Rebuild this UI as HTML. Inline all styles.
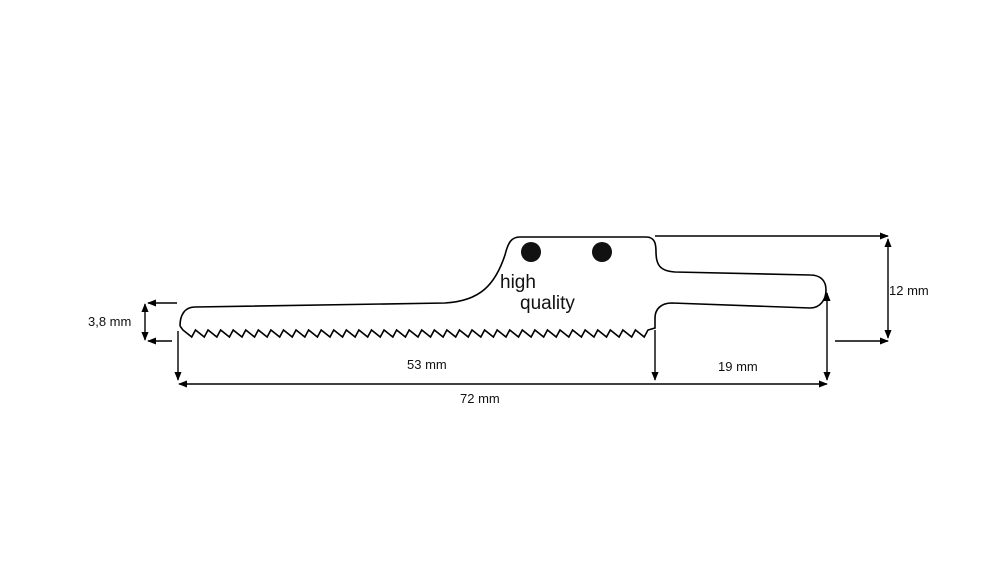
<!DOCTYPE html>
<html><head><style>html,body{margin:0;padding:0;background:#fff}svg{display:block}</style></head>
<body>
<svg width="1000" height="563" viewBox="0 0 1000 563" xmlns="http://www.w3.org/2000/svg">
<defs>
<marker id="a" viewBox="0 0 10 10" refX="9" refY="5" markerWidth="9" markerHeight="9" orient="auto-start-reverse" markerUnits="userSpaceOnUse"><path d="M0,1 L10,5 L0,9 z" fill="#000"/></marker>
</defs>
<path fill="none" stroke="#000" stroke-width="1.6" d="M180,326 C180,316 184,307 195,307 L445,303 C480,301 495,285 505,255 C508,243 511,237 520,237 L646,237 C655,237 656,244 656,252 C656,265 660,271 675,272 L810,275 C822,275 826,282 826,290 C826,300 820,308 810,308 L672,303 C660,303 655,310 655,318 L655,328 L648,330
l-3.77,7 l-8.8,-7 l-3.77,7 l-8.8,-7 l-3.77,7 l-8.8,-7 l-3.77,7 l-8.8,-7 l-3.77,7 l-8.8,-7
l-3.77,7 l-8.8,-7 l-3.77,7 l-8.8,-7 l-3.77,7 l-8.8,-7 l-3.77,7 l-8.8,-7 l-3.77,7 l-8.8,-7
l-3.77,7 l-8.8,-7 l-3.77,7 l-8.8,-7 l-3.77,7 l-8.8,-7 l-3.77,7 l-8.8,-7 l-3.77,7 l-8.8,-7
l-3.77,7 l-8.8,-7 l-3.77,7 l-8.8,-7 l-3.77,7 l-8.8,-7 l-3.77,7 l-8.8,-7 l-3.77,7 l-8.8,-7
l-3.77,7 l-8.8,-7 l-3.77,7 l-8.8,-7 l-3.77,7 l-8.8,-7 l-3.77,7 l-8.8,-7 l-3.77,7 l-8.8,-7
l-3.77,7 l-8.8,-7 l-3.77,7 l-8.8,-7 l-3.77,7 l-8.8,-7 l-3.77,7 l-8.8,-7 l-3.77,7 l-8.8,-7
l-3.77,7 l-8.8,-7 l-3.77,7 l-8.8,-7 l-3.77,7 l-8.8,-7 l-3.77,7 l-8.8,-7 l-3.77,7 l-8.8,-7
l-3.77,7 l-8.8,-7 l-3.77,7 l-8.8,-7 L180,326"/>
<circle cx="531" cy="252" r="10" fill="#111"/>
<circle cx="602" cy="252" r="10" fill="#111"/>
<g font-family="'Liberation Sans',sans-serif" font-size="19" fill="#111">
<text x="500" y="288">high</text>
<text x="520" y="309">quality</text>
</g>
<g stroke="#000" stroke-width="1.4" fill="none">
<line x1="177" y1="303" x2="148" y2="303" marker-end="url(#a)"/>
<line x1="172" y1="341" x2="148" y2="341" marker-end="url(#a)"/>
<line x1="145" y1="304" x2="145" y2="340" marker-start="url(#a)" marker-end="url(#a)"/>
<line x1="178" y1="331" x2="178" y2="380" marker-end="url(#a)"/>
<line x1="655" y1="330" x2="655" y2="380" marker-end="url(#a)"/>
<line x1="179" y1="384" x2="827" y2="384" marker-start="url(#a)" marker-end="url(#a)"/>
<line x1="827" y1="293" x2="827" y2="380" marker-start="url(#a)" marker-end="url(#a)"/>
<line x1="655" y1="236" x2="888" y2="236" marker-end="url(#a)"/>
<line x1="835" y1="341" x2="888" y2="341" marker-end="url(#a)"/>
<line x1="888" y1="239" x2="888" y2="338" marker-start="url(#a)" marker-end="url(#a)"/>
</g>
<g font-family="'Liberation Sans',sans-serif" font-size="13" fill="#111">
<text x="88" y="326">3,8 mm</text>
<text x="407" y="369">53 mm</text>
<text x="718" y="371">19 mm</text>
<text x="460" y="403">72 mm</text>
<text x="889" y="295">12 mm</text>
</g>
</svg>
</body></html>
